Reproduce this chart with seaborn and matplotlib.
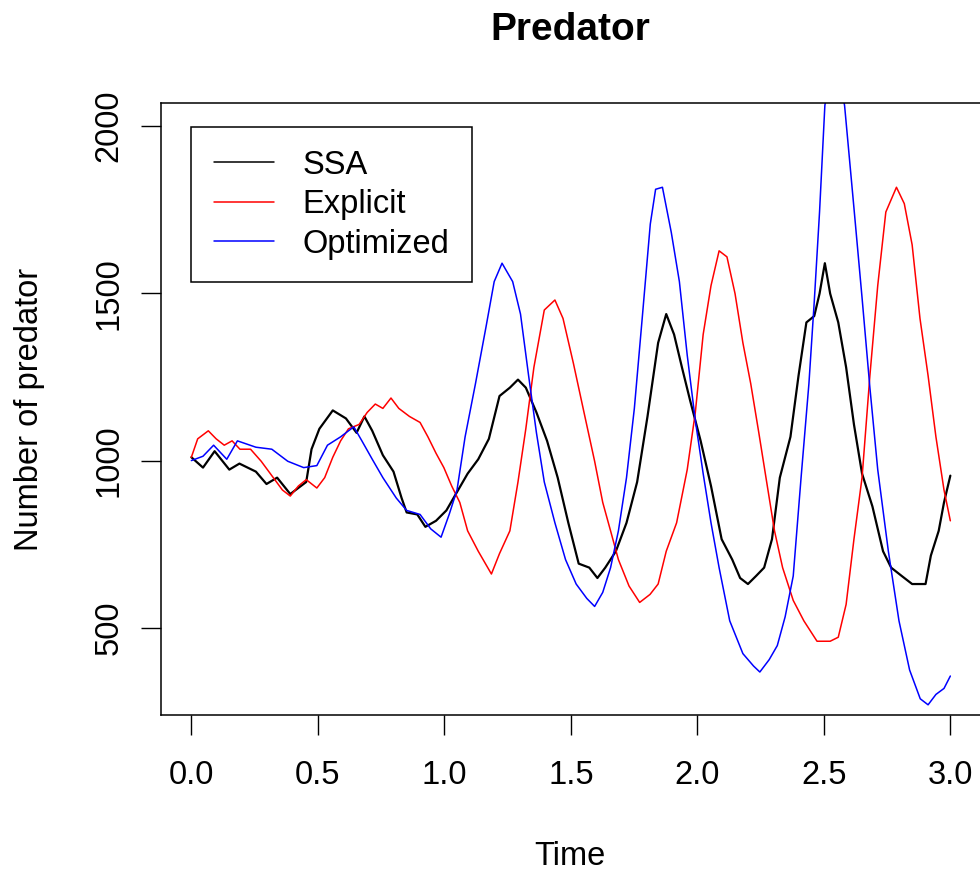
import matplotlib
matplotlib.use("Agg")
import matplotlib.pyplot as plt
import pandas as pd
import seaborn as sns

# ---- data ----
ssa_time = [0.0, 0.046, 0.092, 0.15, 0.19, 0.255, 0.297, 0.339, 0.391, 0.433, 0.454, 0.475,
            0.506, 0.559, 0.611, 0.653, 0.684, 0.715, 0.757, 0.799, 0.831, 0.851, 0.893,
            0.925, 0.967, 1.008, 1.05, 1.092, 1.134, 1.176, 1.218, 1.259, 1.291, 1.322,
            1.364, 1.406, 1.448, 1.49, 1.531, 1.573, 1.605, 1.636, 1.678, 1.72, 1.762,
            1.803, 1.845, 1.877, 1.908, 1.939, 1.971, 2.013, 2.054, 2.096, 2.138, 2.169,
            2.2, 2.232, 2.264, 2.295, 2.326, 2.368, 2.4, 2.431, 2.462, 2.483, 2.504, 2.525,
            2.557, 2.588, 2.619, 2.651, 2.692, 2.734, 2.766, 2.808, 2.849, 2.902, 2.923,
            2.954, 2.975, 3.0]
ssa_value = [1010, 979, 1028, 973, 991, 967, 930, 949, 900, 924, 936, 1034,
             1095, 1150, 1126, 1083, 1132, 1089, 1016, 967, 888, 845, 839,
             802, 820, 851, 906, 961, 1004, 1065, 1193, 1218, 1242, 1218,
             1144, 1059, 949, 814, 692, 680, 649, 680, 729, 814, 936,
             1132, 1352, 1438, 1377, 1279, 1181, 1059, 924, 765, 704, 649,
             631, 655, 680, 765, 949, 1071, 1254, 1413, 1432, 1499, 1590, 1499,
             1413, 1279, 1108, 961, 863, 729, 680, 655, 631, 631, 716,
             790, 875, 955]

explicit_time = [0.0, 0.025, 0.067, 0.098, 0.13, 0.161, 0.192, 0.234, 0.276, 0.318, 0.36,
                 0.391, 0.423, 0.454, 0.496, 0.527, 0.559, 0.59, 0.621, 0.663, 0.695, 0.727,
                 0.757, 0.789, 0.82, 0.862, 0.904, 0.935, 0.967, 0.998, 1.029, 1.061, 1.092,
                 1.134, 1.186, 1.218, 1.259, 1.291, 1.322, 1.354, 1.395, 1.437, 1.469, 1.51,
                 1.552, 1.594, 1.626, 1.657, 1.688, 1.73, 1.772, 1.813, 1.845, 1.877, 1.918,
                 1.96, 1.992, 2.023, 2.054, 2.086, 2.117, 2.149, 2.18, 2.211, 2.243, 2.274,
                 2.305, 2.337, 2.379, 2.421, 2.473, 2.525, 2.557, 2.588, 2.619, 2.651, 2.682,
                 2.713, 2.745, 2.787, 2.818, 2.849, 2.88, 2.912, 2.943, 2.975, 3.0]
explicit_value = [1010, 1065, 1089, 1065, 1046, 1059, 1034, 1034, 998, 955, 912,
                  894, 924, 943, 918, 949, 1010, 1059, 1095, 1108, 1144, 1169,
                  1156, 1187, 1156, 1132, 1114, 1071, 1022, 979, 924, 875, 790,
                  729, 661, 722, 790, 936, 1095, 1279, 1450, 1480, 1425, 1291,
                  1144, 998, 875, 790, 704, 625, 576, 600, 631, 729, 814,
                  973, 1144, 1377, 1523, 1627, 1609, 1499, 1352, 1230, 1083, 936,
                  790, 680, 582, 521, 460, 460, 472, 570, 765, 949, 1254,
                  1523, 1743, 1817, 1768, 1645, 1425, 1254, 1071, 912, 820]

optimized_time = [0.0, 0.046, 0.088, 0.14, 0.182, 0.255, 0.318, 0.381, 0.444, 0.496, 0.538,
                  0.59, 0.642, 0.674, 0.715, 0.757, 0.81, 0.851, 0.904, 0.946, 0.987, 1.019,
                  1.05, 1.082, 1.123, 1.165, 1.197, 1.228, 1.27, 1.301, 1.333, 1.364, 1.395,
                  1.437, 1.479, 1.521, 1.563, 1.594, 1.626, 1.657, 1.688, 1.72, 1.751, 1.782,
                  1.814, 1.835, 1.862, 1.897, 1.929, 1.96, 1.992, 2.023, 2.054, 2.086, 2.128,
                  2.18, 2.222, 2.247, 2.284, 2.316, 2.347, 2.379, 2.41, 2.441, 2.462, 2.483,
                  2.504, 2.54, 2.582, 2.619, 2.651, 2.682, 2.713, 2.755, 2.797, 2.839, 2.881,
                  2.912, 2.943, 2.975, 3.0]
optimized_value = [1000, 1013, 1046, 1004, 1059, 1040, 1034, 998, 979, 985, 1046,
                   1071, 1101, 1059, 1004, 949, 888, 851, 839, 796, 771, 839,
                   912, 1071, 1230, 1401, 1535, 1590, 1535, 1438, 1254, 1083, 936,
                   814, 704, 631, 588, 564, 606, 680, 790, 949, 1156, 1425,
                   1707, 1811, 1817, 1682, 1535, 1315, 1120, 961, 814, 680, 521,
                   423, 386, 368, 405, 447, 533, 655, 949, 1230, 1474, 1743,
                   2061, 2250, 2061, 1755, 1487, 1218, 973, 729, 521, 374, 288,
                   270, 301, 319, 356]

series_names = ["SSA", "Explicit", "Optimized"]
series_colors = ["black", "red", "blue"]
x_ticks = [0.0, 0.5, 1.0, 1.5, 2.0, 2.5, 3.0]
y_ticks = [500, 1000, 1500, 2000]

# ---- figure ----
sns.set_theme(style="white")
plt.rcParams['font.family'] = ['Liberation Sans', 'DejaVu Sans']
plt.rcParams['text.color'] = 'black'

W, H = 980, 871
fig = plt.figure(figsize=(W / 100, H / 100), dpi=100)
ax_left, ax_right, ax_top, ax_bottom = 161, 980.7, 103.3, 714.5
ax = fig.add_axes([ax_left / W, 1 - ax_bottom / H, (ax_right - ax_left) / W, (ax_bottom - ax_top) / H])

frames = [
    pd.DataFrame({"Time": ssa_time, "Value": ssa_value}),
    pd.DataFrame({"Time": explicit_time, "Value": explicit_value}),
    pd.DataFrame({"Time": optimized_time, "Value": optimized_value}),
]
widths = [1.6, 1.1, 1.1]
for df, name, col, lw in zip(frames, series_names, series_colors, widths):
    sns.lineplot(data=df, x="Time", y="Value", ax=ax, color=col, linewidth=lw,
                 label=name, estimator=None, sort=False)

ax.set_xlim(-0.12, 3.12)
ax.set_ylim(241, 2068)
ax.set_xticks(x_ticks)
ax.set_xticklabels([f"{v:.1f}" for v in x_ticks])
ax.set_yticks(y_ticks)
ax.set_yticklabels([str(v) for v in y_ticks])
ax.set_xlabel("")
ax.set_ylabel("")
ax.tick_params(axis="both", direction="out", length=14.4, width=1.0, color="black",
               labelsize=23.5, labelcolor="black")
ax.tick_params(axis="x", pad=18.5, bottom=True)
ax.tick_params(axis="y", pad=12, left=True)
for lab in ax.get_yticklabels():
    lab.set_rotation(90)
    lab.set_va("center")
for s in ax.spines.values():
    s.set_visible(True)
    s.set_color("black")
    s.set_linewidth(1.1)
ax.grid(False)

leg = ax.legend(loc="upper left", bbox_to_anchor=((191 - ax_left) / (ax_right - ax_left),
                                                  (ax_bottom - 126.7) / (ax_bottom - ax_top)),
                borderaxespad=0, fontsize=23.5, frameon=True, fancybox=False,
                edgecolor="black", framealpha=1, handlelength=1.83, handletextpad=0.88,
                borderpad=0.7, labelspacing=0.26)
leg.get_frame().set_linewidth(1.1)
for h in leg.get_lines():
    h.set_linewidth(1.1)
for t in leg.get_texts():
    t.set_color("black")

fig.text(570 / W, 1 - 40 / H, "Predator", ha="center", va="baseline",
         fontsize=28, fontweight="bold", color="black")
fig.text(570 / W, 1 - 865 / H, "Time", ha="center", va="baseline",
         fontsize=23.5, color="black")
fig.text(38 / W, 1 - 409 / H, "Number of predator", ha="center", va="baseline",
         rotation=90, rotation_mode="anchor", fontsize=23.5, color="black")

fig.savefig("out.png", dpi=100)
